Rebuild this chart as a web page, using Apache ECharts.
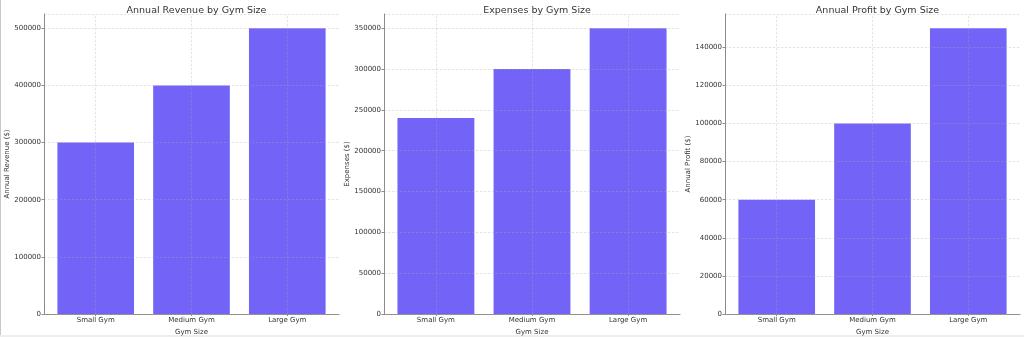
<!DOCTYPE html>
<html>
<head>
<meta charset="utf-8">
<script src="https://cdn.jsdelivr.net/npm/echarts@6/dist/echarts.min.js"></script>
<style>
  html, body { margin: 0; padding: 0; background: #fff; }
  #chart { width: 1024px; height: 337px; }
</style>
</head>
<body>
<div id="chart"></div>
<script>
// Gym sizes shared by all three panels
const categories = ['Small Gym', 'Medium Gym', 'Large Gym'];

// Values per panel
const revenue = [300000, 400000, 500000];
const expenses = [240000, 300000, 350000];
const profit = [60000, 100000, 150000];

const titles = ['Annual Revenue by Gym Size', 'Expenses by Gym Size', 'Annual Profit by Gym Size'];
const yNames = ['Annual Revenue ($)', 'Expenses ($)', 'Annual Profit ($)'];
const xName = 'Gym Size';
const yMax = [525000, 367500, 157500];
const yStep = [100000, 50000, 20000];

const panels = [revenue, expenses, profit];

// Plot areas (left / right edges in px)
const areas = [[44, 339], [384, 680], [725, 1020]];
const TOP = 14, BOTTOM = 23;

const FONT = '"DejaVu Sans", sans-serif';
const BAR = '#7363f6';
const GRID_LINE = { color: 'rgba(170,170,170,0.4)', width: 0.8, type: [2.5, 1.5] };
const AXIS_LINE = { color: '#8c8c8c', width: 1 };

const option = {
  animation: false,
  backgroundColor: '#fff',
  textStyle: { fontFamily: FONT },
  title: [],
  grid: [],
  xAxis: [],
  yAxis: [],
  series: [],
  graphic: [
    { type: 'rect', shape: { x: 0, y: 0, width: 1, height: 337 }, style: { fill: '#c8c8c8' }, silent: true },
    { type: 'rect', shape: { x: 0, y: 335, width: 1024, height: 2 }, style: { fill: '#eeeeee' }, silent: true }
  ]
};

panels.forEach((vals, i) => {
  const [l, r] = areas[i];
  option.title.push({
    text: titles[i],
    left: (l + r) / 2,
    top: 1,
    textAlign: 'center',
    textStyle: { fontFamily: FONT, fontSize: 9.5, fontWeight: 'normal', color: '#333' }
  });
  option.grid.push({
    left: l, width: r - l, top: TOP, bottom: BOTTOM,
    containLabel: false, outerBoundsMode: 'none'
  });
  option.xAxis.push({
    type: 'value',
    gridIndex: i,
    min: -0.54,
    max: 2.54,
    name: xName,
    nameLocation: 'middle',
    nameGap: 8,
    nameTextStyle: { fontFamily: FONT, fontSize: 7, color: '#333' },
    axisLine: { show: true, onZero: false, lineStyle: AXIS_LINE },
    axisTick: { show: true, length: 2, customValues: [0, 1, 2], lineStyle: AXIS_LINE },
    axisLabel: {
      customValues: [0, 1, 2],
      formatter: v => categories[Math.round(v)],
      fontFamily: FONT, fontSize: 7, color: '#333', margin: 3
    },
    splitLine: { show: false }
  });
  option.yAxis.push({
    type: 'value',
    gridIndex: i,
    min: 0,
    max: yMax[i],
    interval: yStep[i],
    z: 3,
    name: yNames[i],
    nameLocation: 'middle',
    nameGap: 33,
    nameTextStyle: { fontFamily: FONT, fontSize: 7, color: '#333' },
    axisLine: { show: true, onZero: false, lineStyle: AXIS_LINE },
    axisTick: { show: true, length: 2.5, lineStyle: AXIS_LINE },
    axisLabel: {
      fontFamily: FONT, fontSize: 7, color: '#333', margin: 3,
      showMaxLabel: false,
      formatter: v => String(v)
    },
    splitLine: { show: true, lineStyle: GRID_LINE }
  });
  option.series.push({
    type: 'bar',
    xAxisIndex: i,
    yAxisIndex: i,
    barWidth: '80%',
    itemStyle: { color: BAR },
    data: vals.map((v, k) => [k, v]),
    markLine: {
      silent: true,
      symbol: 'none',
      label: { show: false },
      lineStyle: GRID_LINE,
      z: 5,
      data: categories.map((c, k) => ({ xAxis: k }))
    }
  });
});

const chart = echarts.init(document.getElementById('chart'), null, { renderer: 'canvas' });
chart.setOption(option);
</script>
</body>
</html>
